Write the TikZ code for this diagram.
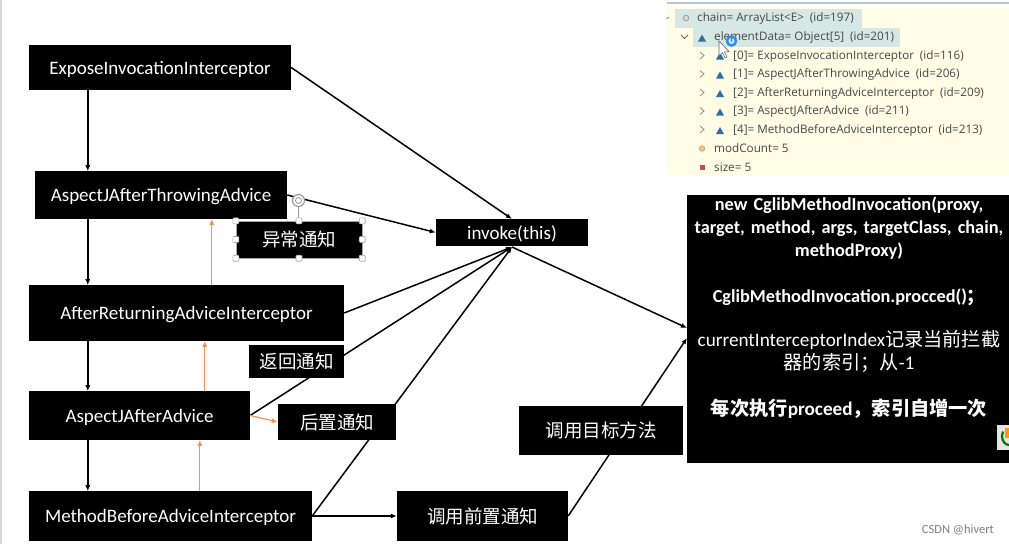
\documentclass[tikz,border=0pt]{standalone}
\usepackage{fontspec}
\setmainfont{Carlito}
\newfontfamily\cjk{Noto Sans CJK SC}
\newfontfamily\ide{Open Sans}
\usetikzlibrary{arrows.meta,backgrounds}
\definecolor{orangeline}{HTML}{F0915A}
\definecolor{panelbg}{HTML}{FFFDE6}
\definecolor{rowbg}{HTML}{D7E8E4}
\definecolor{tri}{HTML}{2F6DA8}
\definecolor{panelline}{HTML}{B4C6D6}
\definecolor{ring}{HTML}{2F8FE0}
\tikzset{
  x=1pt,y=-1pt,
  blackbox/.style={fill=black,text=white,draw=none,inner sep=0pt,font=\fontsize{19}{22}\selectfont},
  cjkbox/.style={blackbox,font=\cjk\fontsize{18.5}{22}\selectfont},
  flow/.style={draw=black,line width=1.5pt,-{Latex[length=6pt,width=5pt]}},
  back/.style={draw=orangeline,line width=1.2pt,-{Latex[length=6pt,width=5pt]}},
  iderow/.style={anchor=west,inner sep=0pt,text=black!72,font=\ide\fontsize{11.7}{13}\selectfont},
  triicon/.style={fill=tri,draw=none},
  chev/.style={draw=black!45,line width=.8pt},
  handle/.style={draw=black!35,fill=white,rounded corners=1pt,minimum size=6pt,inner sep=0pt,line width=.6pt}
}
\newcommand{\bx}[7][blackbox]{\node[#1,minimum width=#5pt-#3pt,minimum height=#6pt-#4pt] (#2) at ({(#3+#5)/2},{(#4+#6)/2}) {#7};}
\newcommand{\ttri}[2]{\fill[triicon] (#1-4,#2+3.5) -- (#1+4,#2+3.5) -- (#1,#2-3.5) -- cycle;}
\newcommand{\tchev}[2]{\draw[chev] (#1-2,#2-3.5) -- (#1+2,#2) -- (#1-2,#2+3.5);}
\newcommand{\dn}[1]{\raisebox{0pt}[13pt][0pt]{#1}}
\newcommand{\bigger}{\fontsize{19.2}{23}\selectfont}
\begin{document}
\begin{tikzpicture}
\useasboundingbox (0,0) rectangle (1009,544);
% left column
\bx{expose}{29}{45}{291}{90}{\dn{ExposeInvocationInterceptor}}
\bx{throwing}{35}{171}{287}{219}{\dn{AspectJAfterThrowingAdvice}}
\bx{returning}{29}{285}{344}{341}{\dn{AfterReturningAdviceInterceptor}}
\bx{after}{29}{391}{250}{440}{\dn{AspectJAfterAdvice}}
\bx{before}{29}{491}{312}{541}{\dn{MethodBeforeAdviceInterceptor}}
% labels
\bx[cjkbox]{yichang}{236}{221}{362}{258}{异常通知}
\bx[cjkbox]{fanhui}{249}{345}{344}{378}{返回通知}
\bx[cjkbox]{houzhi}{278}{404}{396}{440}{后置通知}
\bx[cjkbox]{qianzhi}{397}{491}{568}{541}{调用前置通知}
\bx[cjkbox]{mubiao}{519}{406}{683}{455}{调用目标方法}
\bx{invoke}{436}{219}{588}{246}{\dn{invoke(this)}}
% big box
\bx{big}{687}{195}{1009}{463}{}
\node[text=white,align=center,inner sep=0pt,anchor=north,text width=320pt,font=\fontsize{18.3}{23}\selectfont] (bigtext) at (849,196.5) {%
\textbf{new CglibMethodInvocation(proxy,}\\
\textbf{target, method, args, targetClass, chain,}\\
\textbf{methodProxy)}\\[23pt]
\textbf{CglibMethodInvocation.procced()}{\cjk\bfseries ；}\\[21pt]
{\bigger currentInterceptorIndex\cjk 记录当前拦截}\\
{\bigger\cjk 器的索引；从}{\bigger -1}\\[23pt]
{\bigger{\cjk\bfseries 每次执行}\textbf{proceed}{\cjk\bfseries ，索引自增一次}}};
% connection points
\coordinate (inv) at (512,247);
\coordinate (invtop) at (512,219);
\coordinate (bigA) at (687,328);
\coordinate (bigB) at (687,338);
\begin{scope}[on background layer]
\fill[white] (0,0) rectangle (1009,544);
\fill[black!15] (0,0) rectangle (1.5,544);
\draw[flow] (expose.south west)++(59,0) -- ++(0,81);
\draw[flow] (throwing.south west)++(53,0) -- ++(0,66);
\draw[flow] (returning.south west)++(59,0) -- ++(0,50);
\draw[flow] (after.south west)++(59,0) -- ++(0,51);
\draw[flow] (expose.east) -- (invtop);
\draw[flow] (throwing.east) -- (invoke.west);
\draw[flow] (returning.east) -- (inv);
\draw[flow] (after.east) -- (inv);
\draw[flow] (before.east) -- (inv);
\draw[flow] (inv) -- (bigA);
\draw[flow] (qianzhi.east) -- (bigB);
\draw[flow] (before.east) -- (qianzhi.west);
\draw[back] (before.north west)++(171,0) -- ++(0,-51);
\draw[back] (after.north west)++(176,0) -- ++(0,-50);
\draw[back] (returning.north west)++(183,0) -- ++(0,-66);
\draw[back] (after.east) -- (houzhi.west);
\end{scope}
% selection handles
\draw[black!40,line width=.7pt] (298.5,207) -- (298.5,221);
\draw[black!40,line width=1.2pt,fill=white] (298.5,200.5) circle (6pt);
\draw[black!40,line width=.8pt] (298.5,200.5) circle (3pt);
\draw[black!35,line width=.6pt] (yichang.north west) rectangle (yichang.south east);
\foreach \a in {north west,north,north east,west,east,south west,south,south east}
  \node[handle] at (yichang.\a) {};
% debugger panel
\fill[panelbg] (667,8) rectangle (1009,175);
\fill[panelline] (667,2) rectangle (1009,4);
\fill[rowbg] (675,9) rectangle (862,28);
\fill[rowbg] (693,28) rectangle (900,47);
\draw[black!60,line width=.7pt] (666.5,19) -- (668.5,17);
\draw[black!40,fill=black!15,line width=.8pt] (686,18) circle (2.8pt);
\draw[black!60,line width=1pt] (681,35) -- (684.5,38.5) -- (688,35);
\ttri{702}{38}
\foreach \yy in {55.5,74,92.5,111,129.5}{\tchev{702}{\yy}}
\foreach \yy in {56,75,93.5,112,130.5}{\ttri{720}{\yy}}
\node[iderow] (r0) at (697,18.5) {chain= ArrayList<E>\,\,\,(id=197)};
\node[iderow] (r1) at (714,37.5) {elementData= Object[5]\,\,\,(id=201)};
\node[iderow] (r2) at (733,56) {[0]= ExposeInvocationInterceptor\,\,\,(id=116)};
\node[iderow] (r3) at (733,74.5) {[1]= AspectJAfterThrowingAdvice\,\,\,(id=206)};
\node[iderow] (r4) at (733,93) {[2]= AfterReturningAdviceInterceptor\,\,\,(id=209)};
\node[iderow] (r5) at (733,111.5) {[3]= AspectJAfterAdvice\,\,\,(id=211)};
\node[iderow] (r6) at (733,130) {[4]= MethodBeforeAdviceInterceptor\,\,\,(id=213)};
\node[iderow] (r7) at (714,148.5) {modCount= 5};
\node[iderow] (r8) at (714,167.5) {size= 5};
\draw[orange!70!black!60,fill=orange!50,line width=.5pt] (702,148.5) circle (2.8pt);
\fill[red!70!black!70] (699.5,164.5) rectangle (705,170);
% cursor and ring
\draw[ring,line width=2.5pt] (731.5,41) circle (4.5pt);
\fill[ring] (731.5,41) circle (1pt);
\draw[black!60,fill=white,line width=.6pt] (719,41) -- (719,56) -- (722.5,52.5) -- (725,58) -- (727,57) -- (724.5,52) -- (729,51.5) -- cycle;
% logo
\fill[white!90!black] (997,425) rectangle (1009,450);
\draw[green!45!black,line width=2.2pt] (1009,445) arc (270:150:7pt and 9pt);
\fill[orange!80!yellow] (1005,428) rectangle (1009,438);
% watermark
\node[anchor=east,inner sep=0pt,text=black!50,font=\fontsize{12.5}{14}\selectfont] (mark) at (994,530) {CSDN @hivert};
\end{tikzpicture}
\end{document}
